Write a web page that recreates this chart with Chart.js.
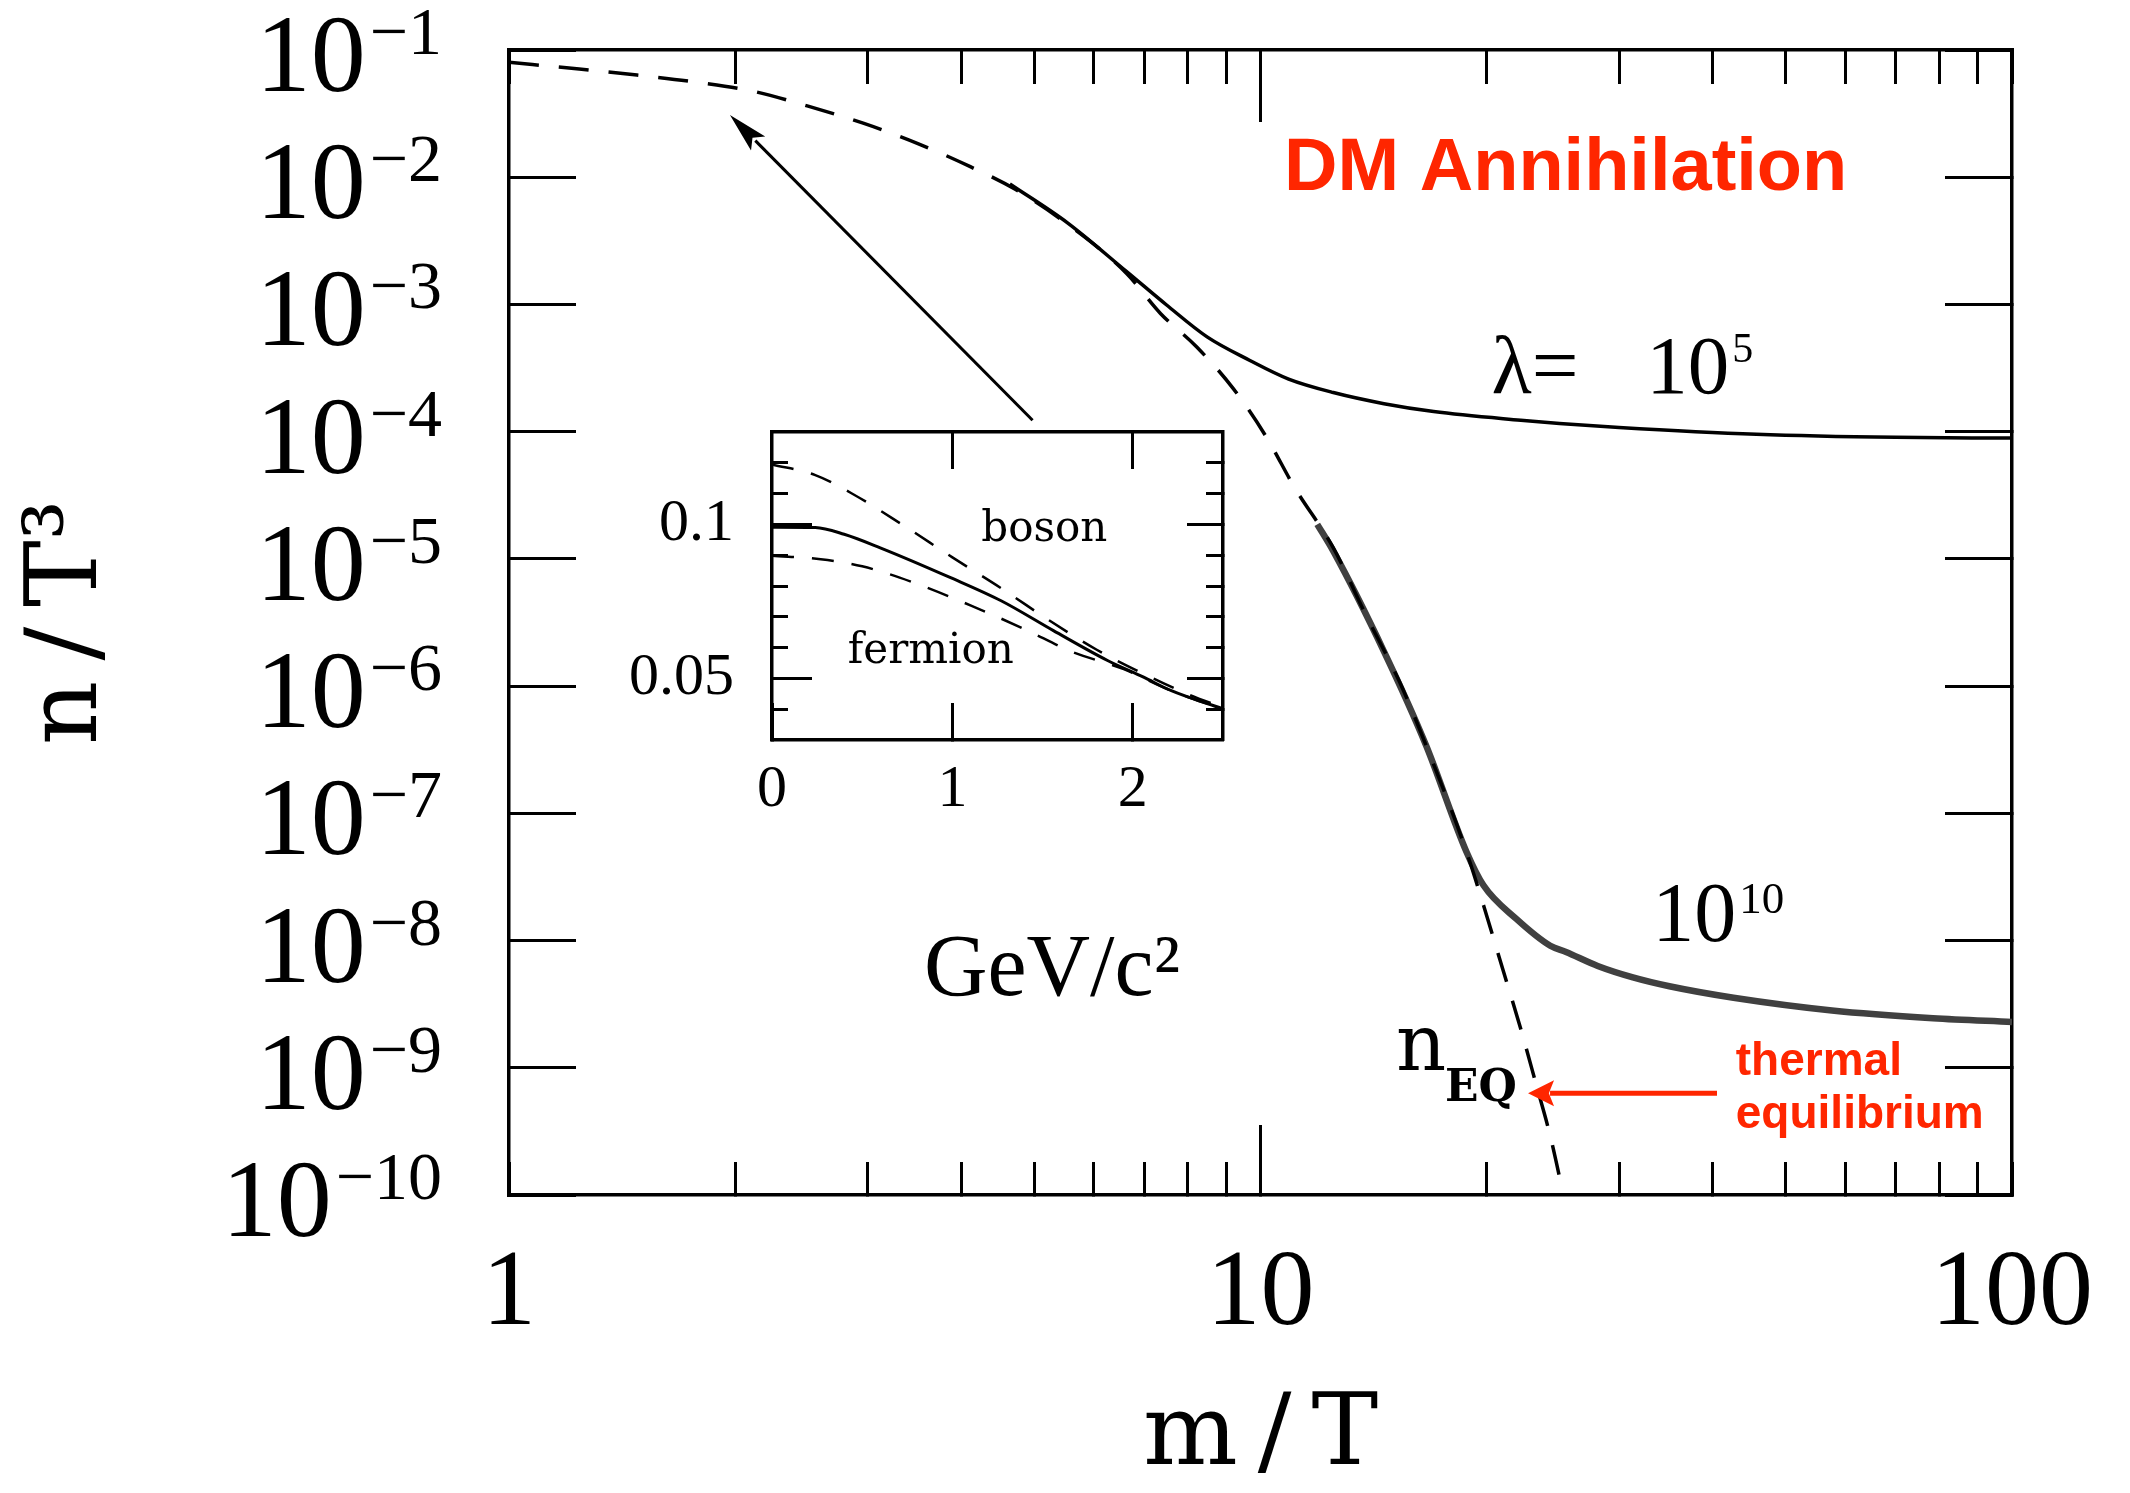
<!DOCTYPE html>
<html>
<head>
<meta charset="utf-8">
<script src="https://cdn.jsdelivr.net/npm/chart.js@4.4.1/dist/chart.umd.min.js"></script>
<style>
  html, body { margin: 0; padding: 0; background: #ffffff; }
  #wrap { position: relative; width: 2130px; height: 1493px; overflow: hidden; }
  #main { position: absolute; left: 0; top: 0; width: 2130px; height: 1493px; }
  #inset { position: absolute; left: 560px; top: 380px; width: 700px; height: 480px; }
</style>
</head>
<body>
<div id="wrap">
  <canvas id="main" width="2130" height="1493"></canvas>
  <canvas id="inset" width="700" height="480"></canvas>
</div>
<script>
// ---------------- main chart data ----------------
const xRange = [1, 100];
const yRange = [1e-10, 1e-1];

// equilibrium abundance n_EQ (dashed)
const eqX = [1.0, 1.24, 1.48, 1.77, 2.1, 2.5, 2.96, 3.5, 4.11, 4.71, 5.53, 6.63, 7.36, 8.22, 9.2, 10.19, 11.1, 12.5, 13.8, 15.3, 16.6, 18.8, 19.8, 21.0, 22.2, 23.3, 24.3, 25.3];
const eqY = [0.080, 0.0708, 0.0635, 0.056, 0.0478, 0.0362, 0.0266, 0.0184, 0.0121, 8.07e-3, 4.3e-3, 1.76e-3, 8.5e-4, 4.65e-4, 2.18e-4, 9.0e-5, 3.64e-5, 1.22e-5, 3.66e-6, 1.09e-6, 3.45e-7, 4.97e-8, 1.9e-8, 6.0e-9, 2.02e-9, 7.2e-10, 2.9e-10, 1.0e-10];

// lambda = 10^5 (solid)
const lam5X = [4.64, 5.53, 6.63, 7.5, 8.49, 9.68, 10.9, 12.5, 14.6, 17.0, 22.2, 25.0, 30.0, 45.7, 70.0, 100];
const lam5Y = [8.85e-3, 4.40e-3, 1.82e-3, 9.9e-4, 5.56e-4, 3.63e-4, 2.59e-4, 2.03e-4, 1.66e-4, 1.44e-4, 1.23e-4, 1.16e-4, 1.08e-4, 9.55e-5, 9.02e-5, 8.91e-5];

// lambda = 10^10 (thick solid)
const lam10X = [11.9, 12.5, 14.6, 16.6, 18.8, 19.8, 21.9, 24.3, 25.5, 28.1, 31.3, 35.0, 42.6, 57.6, 78.5, 100];
const lam10Y = [1.87e-5, 1.15e-5, 1.87e-6, 3.45e-7, 4.97e-8, 2.72e-8, 1.48e-8, 9.1e-9, 8.13e-9, 6.31e-9, 5.13e-9, 4.37e-9, 3.55e-9, 2.82e-9, 2.45e-9, 2.29e-9];

const xTickValues = [1, 2, 3, 4, 5, 6, 7, 8, 9, 10, 20, 30, 40, 50, 60, 70, 80, 90, 100];
const xMajorTicks = [10];
const xLabelValues = [1, 10, 100];
const xTickLabels = ['1', '10', '100'];
const yTickValues = [1e-1, 1e-2, 1e-3, 1e-4, 1e-5, 1e-6, 1e-7, 1e-8, 1e-9, 1e-10];
const yTickBase = '10';
const yTickExponents = ['\u22121', '\u22122', '\u22123', '\u22124', '\u22125', '\u22126', '\u22127', '\u22128', '\u22129', '\u221210'];
const xTitle = 'm\u2009/\u2009T';
const yTitle = 'n\u2009/\u2009T\u00B3';

// ---------------- inset data ----------------
const insetXRange = [0, 2.5];
const insetYRange = [0.03, 0.13];
const mbX = [0, 0.24, 0.4, 0.6, 0.99, 1.27, 1.56, 1.86, 2.06, 2.21, 2.5];
const mbY = [0.0991, 0.0990, 0.0968, 0.0924, 0.0827, 0.0752, 0.0655, 0.0558, 0.0504, 0.0461, 0.0401];
const bosonX = [0.0, 0.24, 0.45, 0.72, 1.0, 1.28, 1.54, 1.8, 2.06, 2.3, 2.5];
const bosonY = [0.1195, 0.116, 0.1098, 0.1000, 0.0893, 0.0789, 0.0687, 0.0593, 0.0515, 0.0450, 0.0405];
const fermionX = [0.0, 0.27, 0.5, 0.8, 1.1, 1.4, 1.66, 1.95, 2.2, 2.5];
const fermionY = [0.0898, 0.0887, 0.0864, 0.0808, 0.0737, 0.0660, 0.0587, 0.0530, 0.0463, 0.0400];
const insetXTicks = [0, 1, 2];
const insetXTopTicks = [1, 2];
const insetXLabels = ['0', '1', '2'];
const insetYMinor = [0.04, 0.05, 0.06, 0.07, 0.08, 0.09, 0.1, 0.11, 0.12];
const insetYMajor = [0.05, 0.1];
const insetYLabels = ['0.05', '0.1'];

// ---------------- styles / annotations ----------------
const RED = '#ff2600';
const SERIF = "'Liberation Serif', 'DejaVu Serif', serif";
const SLAB = "'DejaVu Serif', serif";

const mainTexts = [
  { text: 'DM Annihilation', x: 10.75, y: 7.94e-3, font: "bold 74px 'Liberation Sans', Arial, sans-serif", color: RED },
  { text: '\u03BB=', x: 20.3, y: 2.01e-4, font: "83px " + SERIF, color: '#000' },
  { text: 'GeV/c\u00B2', x: 3.566, y: 3.72e-9, font: "88px 'Liberation Serif', serif", color: '#000' },
  { text: 'n', x: 15.15, y: 9.57e-10, font: "78px " + SLAB, color: '#000' },
  { text: 'EQ', x: 17.6, y: 5.46e-10, font: "bold 44px " + SLAB, color: '#000' },
  { text: 'thermal', x: 42.9, y: 8.75e-10, font: "bold 46px 'Liberation Sans', Arial, sans-serif", color: RED },
  { text: 'equilibrium', x: 42.9, y: 3.35e-10, font: "bold 46px 'Liberation Sans', Arial, sans-serif", color: RED }
];
const mainPowers = [
  { base: '10', exp: '5', x: 32.6, y: 2.01e-4, baseSize: 83, expSize: 42, raise: 31, gap: 3 },
  { base: '10', exp: '10', x: 33.2, y: 1.0e-8, baseSize: 84, expSize: 45, raise: 28, gap: 3 }
];
const mainArrows = [
  { from: { x: 4.974, y: 1.23e-4 }, to: { x: 1.968, y: 0.0308 }, color: '#000', width: 3, head: 40, half: 10 },
  { from: { x: 40.5, y: 6.3e-10 }, to: { x: 22.7, y: 6.3e-10 }, color: RED, width: 5, head: 26, half: 13 }
];
const insetTexts = [
  { text: 'boson', x: 1.16, y: 0.0946, font: "42px " + SLAB, color: '#000' },
  { text: 'fermion', x: 0.42, y: 0.0551, font: "42px " + SLAB, color: '#000' }
];

// ---------------- helpers ----------------
function pts(xs, ys) { return xs.map((x, i) => ({ x: x, y: ys[i] })); }
function fixedSize(size) {
  return function (s) {
    if (s.isHorizontal()) { s.height = size; } else { s.width = size; }
    s.paddingLeft = 0; s.paddingRight = 0; s.paddingTop = 0; s.paddingBottom = 0;
  };
}
function useTicks(values) {
  return function (s) { s.ticks = values.map(v => ({ value: v })); };
}
function labelFor(values, labels, v) {
  const i = values.findIndex(t => Math.abs(t - v) <= 1e-6 * Math.abs(t));
  return i >= 0 ? labels[i] : '';
}
function gridOpts(len) {
  return { drawOnChartArea: false, drawTicks: true, tickLength: len, tickWidth: 3, tickColor: '#000' };
}
function drawArrow(ctx, x1, y1, x2, y2, a) {
  const ang = Math.atan2(y2 - y1, x2 - x1);
  const bx = x2 - Math.cos(ang) * a.head, by = y2 - Math.sin(ang) * a.head;
  ctx.strokeStyle = a.color; ctx.fillStyle = a.color; ctx.lineWidth = a.width;
  ctx.beginPath(); ctx.moveTo(x1, y1); ctx.lineTo(bx + Math.cos(ang) * 4, by + Math.sin(ang) * 4); ctx.stroke();
  const nx = -Math.sin(ang), ny = Math.cos(ang);
  ctx.beginPath();
  ctx.moveTo(x2, y2);
  ctx.lineTo(bx + nx * a.half, by + ny * a.half);
  ctx.lineTo(x2 - Math.cos(ang) * a.head * 0.8, y2 - Math.sin(ang) * a.head * 0.8);
  ctx.lineTo(bx - nx * a.half, by - ny * a.half);
  ctx.closePath(); ctx.fill();
}
// draws base with raised exponent; (x, baseline) is the left end
function drawPower(ctx, x, baseline, p) {
  ctx.font = p.baseSize + 'px ' + SERIF;
  const wb = ctx.measureText(p.base).width;
  ctx.fillText(p.base, x, baseline);
  ctx.font = p.expSize + 'px ' + SERIF;
  ctx.fillText(p.exp, x + wb + p.gap, baseline - p.raise);
}
function powerWidth(ctx, p) {
  ctx.font = p.baseSize + 'px ' + SERIF;
  const wb = ctx.measureText(p.base).width;
  ctx.font = p.expSize + 'px ' + SERIF;
  return wb + p.gap + ctx.measureText(p.exp).width;
}

const mainAnnotations = {
  id: 'mainAnnotations',
  afterDraw(chart) {
    const ctx = chart.ctx, xs = chart.scales.x, ys = chart.scales.y;
    ctx.save();
    for (const a of mainArrows) {
      drawArrow(ctx, xs.getPixelForValue(a.from.x), ys.getPixelForValue(a.from.y),
                xs.getPixelForValue(a.to.x), ys.getPixelForValue(a.to.y), a);
    }
    ctx.textAlign = 'left'; ctx.textBaseline = 'alphabetic'; ctx.fillStyle = '#000';
    for (const t of mainTexts) {
      ctx.font = t.font; ctx.fillStyle = t.color;
      ctx.fillText(t.text, xs.getPixelForValue(t.x), ys.getPixelForValue(t.y));
    }
    ctx.fillStyle = '#000';
    for (const p of mainPowers) {
      drawPower(ctx, xs.getPixelForValue(p.x), ys.getPixelForValue(p.y), p);
    }
    // y-axis tick labels 10^-n, right-aligned next to the axis
    const rightEdge = ys.right - 67;
    ys.ticks.forEach((t) => {
      const i = yTickValues.findIndex(v => Math.abs(v - t.value) <= 1e-6 * v);
      if (i < 0) return;
      const p = { base: yTickBase, exp: yTickExponents[i], baseSize: 110, expSize: 68, raise: 37, gap: 4 };
      const w = powerWidth(ctx, p);
      drawPower(ctx, rightEdge - w, ys.getPixelForValue(t.value) + 41, p);
    });
    ctx.restore();
  }
};
const insetAnnotations = {
  id: 'insetAnnotations',
  afterDatasetsDraw(chart) {
    const ctx = chart.ctx, xs = chart.scales.x, ys = chart.scales.y;
    ctx.save();
    ctx.textAlign = 'left'; ctx.textBaseline = 'alphabetic';
    for (const t of insetTexts) {
      ctx.font = t.font; ctx.fillStyle = t.color;
      ctx.fillText(t.text, xs.getPixelForValue(t.x), ys.getPixelForValue(t.y));
    }
    ctx.restore();
  }
};

Chart.defaults.color = '#000';

// ---------------- main chart ----------------
new Chart(document.getElementById('main'), {
  type: 'line',
  data: {
    datasets: [
      { label: 'n_EQ', data: pts(eqX, eqY), borderColor: '#000', borderWidth: 3.5, borderDash: [30, 20],
        pointRadius: 0, cubicInterpolationMode: 'monotone', fill: false },
      { label: '\u03BB = 10^5', data: pts(lam5X, lam5Y), borderColor: '#000', borderWidth: 3.5,
        pointRadius: 0, cubicInterpolationMode: 'monotone', fill: false },
      { label: '\u03BB = 10^10', data: pts(lam10X, lam10Y), borderColor: '#404040', borderWidth: 6.5,
        pointRadius: 0, cubicInterpolationMode: 'monotone', fill: false }
    ]
  },
  options: {
    responsive: false, maintainAspectRatio: false, animation: false, devicePixelRatio: 1,
    layout: { padding: 0 },
    plugins: { legend: { display: false }, tooltip: { enabled: false } },
    scales: {
      x: {
        type: 'logarithmic', axis: 'x', position: 'bottom', weight: 0, min: xRange[0], max: xRange[1],
        afterBuildTicks: useTicks(xTickValues), afterFit: fixedSize(298),
        grid: gridOpts(-33), border: { display: true, color: '#000', width: 3.5 },
        ticks: { autoSkip: false, maxRotation: 0, padding: 69, color: '#000',
                 font: { family: SERIF, size: 108 },
                 callback: (v) => labelFor(xLabelValues, xTickLabels, v) },
        title: { display: true, text: xTitle, color: '#000', font: { family: SLAB, size: 100, lineHeight: 1 },
                 padding: { top: 0, bottom: 5 } }
      },
      xMaj: {
        type: 'logarithmic', axis: 'x', position: 'bottom', weight: -1, min: xRange[0], max: xRange[1],
        afterBuildTicks: useTicks(xMajorTicks), afterFit: fixedSize(0),
        grid: gridOpts(-70), border: { display: false }, ticks: { display: false }
      },
      x2: {
        type: 'logarithmic', axis: 'x', position: 'top', weight: 0, min: xRange[0], max: xRange[1],
        afterBuildTicks: useTicks(xTickValues), afterFit: fixedSize(50),
        grid: gridOpts(-34), border: { display: true, color: '#000', width: 3.5 }, ticks: { display: false }
      },
      x2Maj: {
        type: 'logarithmic', axis: 'x', position: 'top', weight: -1, min: xRange[0], max: xRange[1],
        afterBuildTicks: useTicks(xMajorTicks), afterFit: fixedSize(0),
        grid: gridOpts(-72), border: { display: false }, ticks: { display: false }
      },
      y: {
        type: 'logarithmic', axis: 'y', position: 'left', weight: 0, min: yRange[0], max: yRange[1],
        afterBuildTicks: useTicks(yTickValues), afterFit: fixedSize(509),
        grid: gridOpts(-67), border: { display: true, color: '#000', width: 3.5 },
        ticks: { display: false },
        title: { display: true, text: yTitle, color: '#000', font: { family: SLAB, size: 100, lineHeight: 1 },
                 padding: { top: 20, bottom: 0 } }
      },
      y2: {
        type: 'logarithmic', axis: 'y', position: 'right', weight: 0, min: yRange[0], max: yRange[1],
        afterBuildTicks: useTicks(yTickValues), afterFit: fixedSize(118),
        grid: gridOpts(-67), border: { display: true, color: '#000', width: 3.5 }, ticks: { display: false }
      }
    }
  },
  plugins: [mainAnnotations]
});

// ---------------- inset chart ----------------
new Chart(document.getElementById('inset'), {
  type: 'line',
  data: {
    datasets: [
      { label: 'Maxwell-Boltzmann', data: pts(mbX, mbY), borderColor: '#000', borderWidth: 3,
        pointRadius: 0, cubicInterpolationMode: 'monotone', fill: false },
      { label: 'boson', data: pts(bosonX, bosonY), borderColor: '#000', borderWidth: 2.5, borderDash: [22, 18],
        pointRadius: 0, cubicInterpolationMode: 'monotone', fill: false },
      { label: 'fermion', data: pts(fermionX, fermionY), borderColor: '#000', borderWidth: 2.5, borderDash: [22, 18],
        pointRadius: 0, cubicInterpolationMode: 'monotone', fill: false }
    ]
  },
  options: {
    responsive: false, maintainAspectRatio: false, animation: false, devicePixelRatio: 1,
    layout: { padding: 0 },
    plugins: { legend: { display: false }, tooltip: { enabled: false } },
    scales: {
      x: {
        type: 'linear', axis: 'x', position: 'bottom', weight: 0, min: insetXRange[0], max: insetXRange[1],
        afterBuildTicks: useTicks(insetXTicks), afterFit: fixedSize(120),
        grid: gridOpts(-37), border: { display: true, color: '#000', width: 3.5 },
        ticks: { autoSkip: false, maxRotation: 0, padding: 51, color: '#000', font: { family: SERIF, size: 60 },
                 callback: (v) => labelFor(insetXTicks, insetXLabels, v) }
      },
      x2: {
        type: 'linear', axis: 'x', position: 'top', weight: 0, min: insetXRange[0], max: insetXRange[1],
        afterBuildTicks: useTicks(insetXTopTicks), afterFit: fixedSize(52),
        grid: gridOpts(-37), border: { display: true, color: '#000', width: 3.5 }, ticks: { display: false }
      },
      y: {
        type: 'linear', axis: 'y', position: 'left', weight: 0, min: insetYRange[0], max: insetYRange[1],
        afterBuildTicks: useTicks(insetYMinor), afterFit: fixedSize(212),
        grid: gridOpts(-16), border: { display: true, color: '#000', width: 3.5 },
        ticks: { autoSkip: false, padding: 54, color: '#000', font: { family: SERIF, size: 60 },
                 callback: (v) => labelFor(insetYMajor, insetYLabels, v) }
      },
      yMaj: {
        type: 'linear', axis: 'y', position: 'left', weight: -1, min: insetYRange[0], max: insetYRange[1],
        afterBuildTicks: useTicks(insetYMajor), afterFit: fixedSize(0),
        grid: gridOpts(-40), border: { display: false }, ticks: { display: false }
      },
      y2: {
        type: 'linear', axis: 'y', position: 'right', weight: 0, min: insetYRange[0], max: insetYRange[1],
        afterBuildTicks: useTicks(insetYMinor), afterFit: fixedSize(37),
        grid: gridOpts(-17), border: { display: true, color: '#000', width: 3.5 }, ticks: { display: false }
      },
      y2Maj: {
        type: 'linear', axis: 'y', position: 'right', weight: -1, min: insetYRange[0], max: insetYRange[1],
        afterBuildTicks: useTicks(insetYMajor), afterFit: fixedSize(0),
        grid: gridOpts(-36), border: { display: false }, ticks: { display: false }
      }
    }
  },
  plugins: [insetAnnotations]
});
</script>
</body>
</html>
